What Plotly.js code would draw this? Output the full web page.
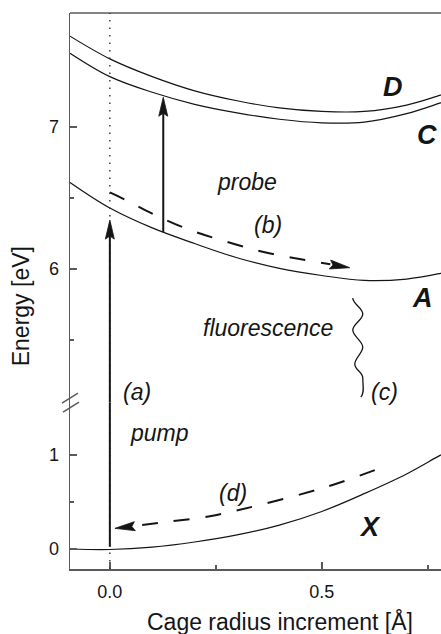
<!DOCTYPE html>
<html><head><meta charset="utf-8">
<script src="https://cdn.plot.ly/plotly-3.0.1.min.js"></script>
<style>html,body{margin:0;padding:0;overflow:hidden;background:#fff}#chart{width:470px;height:634px}</style>
</head><body><div id="chart"></div><script>
// Cage radius increment [Å]
const radius = [-0.094, 0, 0.1, 0.2, 0.3, 0.4, 0.5, 0.6, 0.7, 0.78, 0.83];
// Potential energy curves [eV]
const stateX = [0.0, -0.005, 0.02, 0.075, 0.15, 0.255, 0.40, 0.59, 0.80, 1.0, 1.12];
const stateA = [6.61, 6.43, 6.29, 6.18, 6.08, 6.005, 5.955, 5.92, 5.93, 5.97, 6.005];
const stateC = [7.52, 7.355, 7.245, 7.16, 7.10, 7.055, 7.03, 7.035, 7.095, 7.17, 7.22];
const stateD = [7.64, 7.48, 7.355, 7.255, 7.185, 7.135, 7.11, 7.11, 7.155, 7.225, 7.27];
// relaxation paths (dashed)
const pathBx = [0, 0.035, 0.10, 0.185, 0.267, 0.35, 0.43, 0.52];
const pathBy = [6.54, 6.49, 6.39, 6.28, 6.20, 6.13, 6.08, 6.034];
const pathDx = [0.625, 0.51, 0.354, 0.236, 0.118, 0.059];
const pathDy = [0.84, 0.66, 0.47, 0.35, 0.28, 0.245];
// tick labels
const xTicks = [0, 0.5];
const yLowTicks = [0, 1];
const yHighTicks = [6, 7];

const FONT = 'Liberation Sans, Arial, Helvetica, sans-serif';
const INK = '#151515';
const AX = '#5a5a5a';

const curve = (y, ax) => ({x: radius, y: y, yaxis: ax, mode: 'lines', line: {color: INK, width: 1.2, shape: 'spline', smoothing: 1.0}, hoverinfo: 'skip', showlegend: false});
const dashed = (x, y, ax) => ({x: x, y: y, yaxis: ax, mode: 'lines', line: {color: INK, width: 2, dash: '16px,16px', shape: 'spline', smoothing: 1.0}, hoverinfo: 'skip', showlegend: false});

const traces = [
  curve(stateX, 'y'), curve(stateA, 'y2'), curve(stateC, 'y2'), curve(stateD, 'y2'),
  dashed(pathBx, pathBy, 'y2'), dashed(pathDx, pathDy, 'y')
];

const head = (x, y, yref, path) => ({type: 'path', xref: 'x', yref: yref, xsizemode: 'pixel', ysizemode: 'pixel', xanchor: x, yanchor: y, path: path, fillcolor: INK, line: {color: INK, width: 0.8}});
const UP = 'M0,0 L-4.5,-19 L0,-16 L4.5,-19 Z';

const shapes = [
  // top frame line
  {type: 'line', xref: 'paper', yref: 'paper', x0: 0, x1: 1, y0: 1, y1: 1, line: {color: AX, width: 1.5}},
  // dotted vertical at 0
  {type: 'line', xref: 'x', yref: 'paper', x0: 0, x1: 0, y0: 0, y1: 1, line: {color: '#333', width: 1.4, dash: '1.5px,6px'}},
  // axis break marks
  {type: 'line', xref: 'paper', yref: 'paper', xsizemode: 'pixel', ysizemode: 'pixel', xanchor: 0, yanchor: 0.3, x0: -8, x1: 8, y0: -1, y1: 9, line: {color: AX, width: 1.5}},
  {type: 'line', xref: 'paper', yref: 'paper', xsizemode: 'pixel', ysizemode: 'pixel', xanchor: 0, yanchor: 0.3, x0: -7, x1: 9, y0: -10, y1: 0, line: {color: AX, width: 1.5}},
  // pump arrow (a)
  {type: 'line', xref: 'x', yref: 'y', x0: 0, x1: 0, y0: 0.025, y1: 1.564, line: {color: INK, width: 2}},
  {type: 'line', xref: 'x', yref: 'y2', x0: 0, x1: 0, y0: 5.063, y1: 6.24, line: {color: INK, width: 2}},
  head(0, 6.345, 'y2', UP),
  // probe arrow
  {type: 'line', xref: 'x', yref: 'y2', x0: 0.126, x1: 0.126, y0: 6.26, y1: 7.10, line: {color: INK, width: 2}},
  head(0.126, 7.21, 'y2', UP),
  // heads of dashed arrows
  head(0.566, 6.01, 'y2', 'M0,0 L-19.1,7.6 L-16.8,2.7 L-20.5,-1.3 Z'),
  head(0.012, 0.22, 'y', 'M0,0 L20.4,-2.3 L16.9,1.9 L19.4,6.7 Z'),
  // fluorescence wiggle (c)
  {type: 'path', xref: 'x', yref: 'y2', xsizemode: 'pixel', ysizemode: 'pixel', xanchor: 0.5825, yanchor: 5.796,
   path: 'M-4,0 C-4,-6 6,-10 6,-16 C6,-22 -4,-26 -4,-32 C-4,-38 6,-43 6,-49 C6,-55 -2,-60 -2,-66 C-2,-72 6,-74 6,-80 C6,-88 8,-95 4,-99',
   line: {color: INK, width: 1.3}}
];

const txt = (t, x, y, yref, size) => ({text: t, x: x, y: y, xref: 'x', yref: yref, showarrow: false, xanchor: 'center', yanchor: 'middle', font: {family: FONT, size: size, color: INK}});
const annotations = [
  txt('<b><i>D</i></b>', 0.667, 7.28, 'y2', 27),
  txt('<b><i>C</i></b>', 0.748, 6.944, 'y2', 27),
  txt('<b><i>A</i></b>', 0.738, 5.80, 'y2', 27),
  txt('<b><i>X</i></b>', 0.613, 0.234, 'y', 27),
  txt('<i>probe</i>', 0.323, 6.61, 'y2', 23),
  txt('<i>(b)</i>', 0.373, 6.31, 'y2', 23),
  txt('<i>fluorescence</i>', 0.373, 5.584, 'y2', 23),
  txt('<i>(c)</i>', 0.649, 5.134, 'y2', 23),
  txt('<i>(a)</i>', 0.063, 5.134, 'y2', 23),
  txt('<i>pump</i>', 0.118, 1.234, 'y', 23),
  txt('<i>(d)</i>', 0.29, 0.596, 'y', 23),
  {text: 'Energy [eV]', xref: 'paper', yref: 'paper', x: -0.125, y: 0.473, textangle: -90, showarrow: false, xanchor: 'center', yanchor: 'middle', font: {family: FONT, size: 23, color: INK}},
  {text: 'Cage radius increment [Å]', xref: 'paper', yref: 'paper', x: 0.538, y: -0.0953, showarrow: false, xanchor: 'center', yanchor: 'middle', font: {family: FONT, size: 23, color: INK}}
];

const axisCommon = {showgrid: false, zeroline: false, showline: true, linecolor: AX, linewidth: 1.5, ticks: 'inside', ticklen: 7, tickwidth: 1.5, tickcolor: AX, tickfont: {family: FONT, size: 18, color: INK}, fixedrange: true};

const layout = {
  width: 470, height: 634,
  margin: {l: 70, r: 10, t: 13, b: 65},
  paper_bgcolor: '#fff', plot_bgcolor: '#fff',
  xaxis: Object.assign({}, axisCommon, {range: [-0.094, 0.826], anchor: 'y', tickmode: 'array', tickvals: xTicks, ticktext: xTicks.map(v => v.toFixed(1)), ticklabelstandoff: 6,
    minor: {tickmode: 'array', tickvals: [0.25, 0.75], ticks: 'inside', ticklen: 4, tickwidth: 1.5, tickcolor: AX}}),
  yaxis: Object.assign({}, axisCommon, {domain: [0, 0.3], range: [-0.213, 1.564], anchor: 'x', tickmode: 'array', tickvals: yLowTicks, ticktext: yLowTicks.map(String), ticklabelstandoff: 6,
    minor: {tickmode: 'array', tickvals: [0.5], ticks: 'inside', ticklen: 4, tickwidth: 1.5, tickcolor: AX}}),
  yaxis2: Object.assign({}, axisCommon, {domain: [0.3, 1], range: [5.063, 7.803], anchor: 'x', tickmode: 'array', tickvals: yHighTicks, ticktext: yHighTicks.map(String), ticklabelstandoff: 6,
    minor: {tickmode: 'array', tickvals: [5.5, 6.5], ticks: 'inside', ticklen: 4, tickwidth: 1.5, tickcolor: AX}}),
  shapes: shapes,
  annotations: annotations,
  showlegend: false
};

Plotly.newPlot('chart', traces, layout, {staticPlot: true, displayModeBar: false});
</script></body></html>
